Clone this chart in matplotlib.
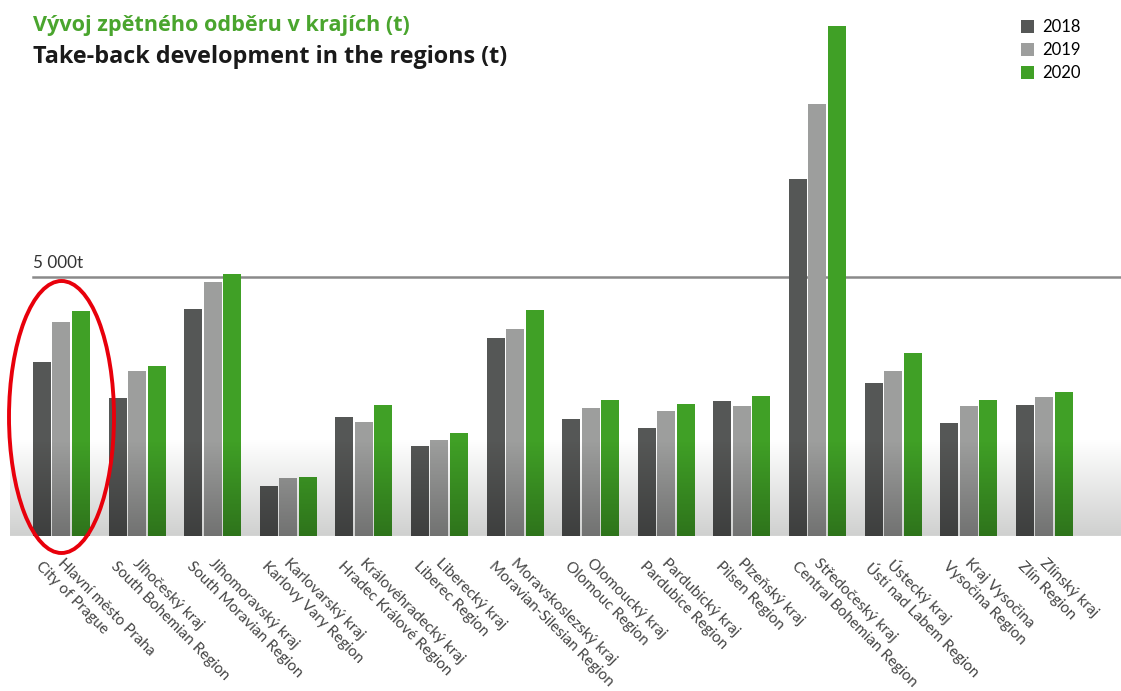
import numpy as np
import matplotlib
matplotlib.use("Agg")
import matplotlib.pyplot as plt
from matplotlib.patches import Ellipse
from matplotlib.colors import LinearSegmentedColormap

# data (t)
regions_cz = ["Hlavní město Praha", "Jihočeský kraj", "Jihomoravský kraj", "Karlovarský kraj",
              "Královéhradecký kraj", "Liberecký kraj", "Moravskoslezský kraj", "Olomoucký kraj",
              "Pardubický kraj", "Plzeňský kraj", "Středočeský kraj", "Ústecký kraj",
              "Kraj Vysočina", "Zlínský kraj"]
regions_en = ["City of Prague", "South Bohemian Region", "South Moravian Region", "Karlovy Vary Region",
              "Hradec Králové Region", "Liberec Region", "Moravian-Silesian Region", "Olomouc Region",
              "Pardubice Region", "Pilsen Region", "Central Bohemian Region", "Ústí nad Labem Region",
              "Vysočina Region", "Zlín Region"]
years = ["2018", "2019", "2020"]
t2018 = [3360, 2665, 4380, 965, 2300, 1740, 3820, 2260, 2085, 2605, 6890, 2955, 2180, 2530]
t2019 = [4130, 3185, 4900, 1120, 2200, 1855, 3995, 2470, 2415, 2510, 8340, 3185, 2510, 2685]
t2020 = [4345, 3280, 5060, 1140, 2530, 1990, 4365, 2625, 2550, 2705, 9845, 3535, 2625, 2780]
series = [t2018, t2019, t2020]
colors = ["#555756", "#9d9e9d", "#40a026"]
ref_value = 5000

plt.rcParams["font.family"] = ["Open Sans", "DejaVu Sans"]

W, H = 1121, 691
fig = plt.figure(figsize=(W / 100, H / 100), dpi=100)
ax = fig.add_axes([10 / W, (H - 536) / H, 1111 / W, 536 / H])
pitch = 75.6
xlim = (-51.5 / pitch, (W - 61.5) / pitch)
ymax = 536 / 259 * ref_value
ax.axis("off")

# background fade near the baseline
grad_top = (536 - 440) / 259 * ref_value
bg = LinearSegmentedColormap.from_list("bg", ["#cfd0cf", "#ffffff"])
ax.imshow(np.linspace(0, 1, 256).reshape(-1, 1), cmap=bg, aspect="auto", origin="lower",
          extent=(xlim[0], xlim[1], 0, grad_top), zorder=0)

shade = np.zeros((256, 1, 4))
shade[:, 0, 3] = np.linspace(0.28, 0.0, 256)

x = np.arange(len(regions_cz))
bw = 18 / pitch
step = 19.5 / pitch
for i, (vals, c) in enumerate(zip(series, colors)):
    bars = ax.bar(x + (i - 1) * step, vals, width=bw, color=c, zorder=2, label=years[i])
    for b in bars:
        im = ax.imshow(shade, aspect="auto", origin="lower", zorder=3,
                       extent=(b.get_x(), b.get_x() + b.get_width(), 0, grad_top))
        im.set_clip_path(b)

ax.set_xlim(*xlim)
ax.set_ylim(0, ymax)

# 5 000 t reference line and baseline
ax.plot([-28.5 / pitch, xlim[1]], [ref_value, ref_value], color="#8a8a8a", lw=1.8, zorder=1)
ax.axhline(0, color="#d5d5d5", lw=1.2, zorder=1)
ax.text(-28.5 / pitch, ref_value + 110, "5 000t", fontsize=12.3, color="#333333",
        va="bottom", ha="left", family=["Lato", "DejaVu Sans"])

# rotated two-line labels: each line anchored on its own, shifted sideways
for xi, cz, en in zip(x, regions_cz, regions_en):
    for txt, dx, dy in ((cz, 3.0, -20), (en, -19.0, -23)):
        ax.annotate(txt, xy=(xi, 0), xytext=(dx * 0.72, dy * 0.72), textcoords="offset points",
                    rotation=-45, rotation_mode="anchor", ha="left", va="top",
                    fontsize=11.0, color="#444444", annotation_clip=False,
                    family=["Lato", "DejaVu Sans"])

# highlight ellipse around Prague
ax.add_patch(Ellipse((0, (536 - 417) / 259 * ref_value), 105 / pitch, 272 / 259 * ref_value,
                     fill=False, edgecolor="#e8000b", lw=2.8, clip_on=False, zorder=5))

fig.text(33 / W, 1 - 26 / H, "Vývoj zpětného odběru v krajích (t)", fontsize=15.6, fontweight="bold",
         color="#4aa52e", va="center", ha="left")
fig.text(33 / W, 1 - 57 / H, "Take-back development in the regions (t)", fontsize=16.8, fontweight="bold",
         color="#1a1a1a", va="center", ha="left")

leg = ax.legend(loc="upper left", bbox_to_anchor=(1021 / W, 1 - 19 / H), bbox_transform=fig.transFigure,
                frameon=False, handlelength=0.8, handleheight=0.8, handletextpad=0.5,
                labelspacing=0.42, borderaxespad=0, borderpad=0,
                prop={"family": ["Lato", "DejaVu Sans"], "size": 12})

fig.savefig("out.png", dpi=100)
